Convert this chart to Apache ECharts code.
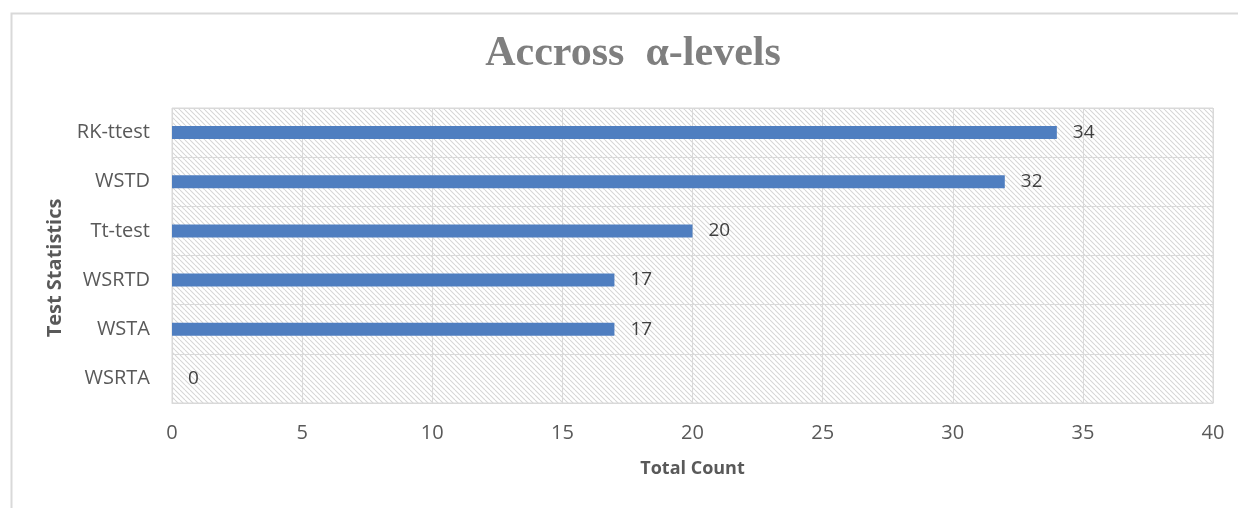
<!DOCTYPE html>
<html>
<head>
<meta charset="utf-8">
<script src="https://cdn.jsdelivr.net/npm/echarts@6/dist/echarts.min.js"></script>
<style>html,body{margin:0;padding:0;background:#fff;}#c{width:1238px;height:508px;}</style>
</head>
<body>
<div id="c"></div>
<script>
const categories = ['WSRTA', 'WSTA', 'WSRTD', 'Tt-test', 'WSTD', 'RK-ttest'];
const counts = [0, 17, 17, 20, 32, 34];
const xTicks = [0, 5, 10, 15, 20, 25, 30, 35, 40];

function makeHatch() {
  const s = 5;
  const cv = document.createElement('canvas');
  cv.width = s; cv.height = s;
  const ctx = cv.getContext('2d');
  ctx.fillStyle = '#ffffff';
  ctx.fillRect(0, 0, s, s);
  ctx.strokeStyle = '#d6d6d6';
  ctx.lineWidth = 1.1;
  for (const o of [-s, 0, s]) {
    ctx.beginPath();
    ctx.moveTo(o, 0);
    ctx.lineTo(o + s, s);
    ctx.stroke();
  }
  return cv;
}

const chart = echarts.init(document.getElementById('c'), null, {renderer: 'canvas'});
const labelFont = '"Open Sans", "Noto Sans", sans-serif';
chart.setOption({
  animation: false,
  backgroundColor: '#ffffff',
  graphic: [{
    type: 'rect', left: 9, top: 11,
    shape: {width: 1260, height: 520},
    style: {fill: 'none', stroke: '#d9d9d9', lineWidth: 2},
    silent: true
  }, {
    type: 'text', x: 55, y: 268, rotation: Math.PI / 2,
    style: {text: 'Test Statistics', fill: '#595959', align: 'center', verticalAlign: 'middle',
      font: 'bold 20px "Open Sans", "Noto Sans", sans-serif'},
    silent: true
  }],
  title: {
    text: 'Accross  α-levels',
    left: 628, top: 28, textAlign: 'center',
    textStyle: {fontFamily: '"Liberation Serif", "DejaVu Serif", serif', fontWeight: 'bold', fontSize: 42, color: '#7f7f7f'}
  },
  grid: {
    left: 172, right: 25, top: 108, bottom: 105,
    show: true,
    backgroundColor: {image: makeHatch(), repeat: 'repeat'},
    borderColor: '#d9d9d9', borderWidth: 1
  },
  xAxis: {
    type: 'value', min: 0, max: 40, interval: 5,
    name: 'Total Count', nameLocation: 'middle', nameGap: 57,
    nameTextStyle: {fontFamily: labelFont, fontWeight: 'bold', fontSize: 18, color: '#595959'},
    axisLine: {show: true, lineStyle: {color: '#d9d9d9', width: 1}},
    axisTick: {show: false},
    axisLabel: {margin: 20, fontFamily: labelFont, fontSize: 20, color: '#595959',
      formatter: v => xTicks.includes(v) ? String(v) : ''},
    splitLine: {show: true, lineStyle: {color: '#d9d9d9', width: 1}}
  },
  yAxis: {
    type: 'category', data: categories,
    axisLine: {show: false},
    axisTick: {show: false},
    axisLabel: {margin: 22, fontFamily: labelFont, fontSize: 20, color: '#595959'},
    splitLine: {show: true, lineStyle: {color: '#d9d9d9', width: 1}}
  },
  series: [{
    type: 'bar', data: counts, barWidth: 13,
    itemStyle: {color: '#4f7ec0'},
    label: {show: true, position: 'right', distance: 16, fontFamily: labelFont, fontSize: 19, color: '#404040'}
  }]
});
</script>
</body>
</html>
